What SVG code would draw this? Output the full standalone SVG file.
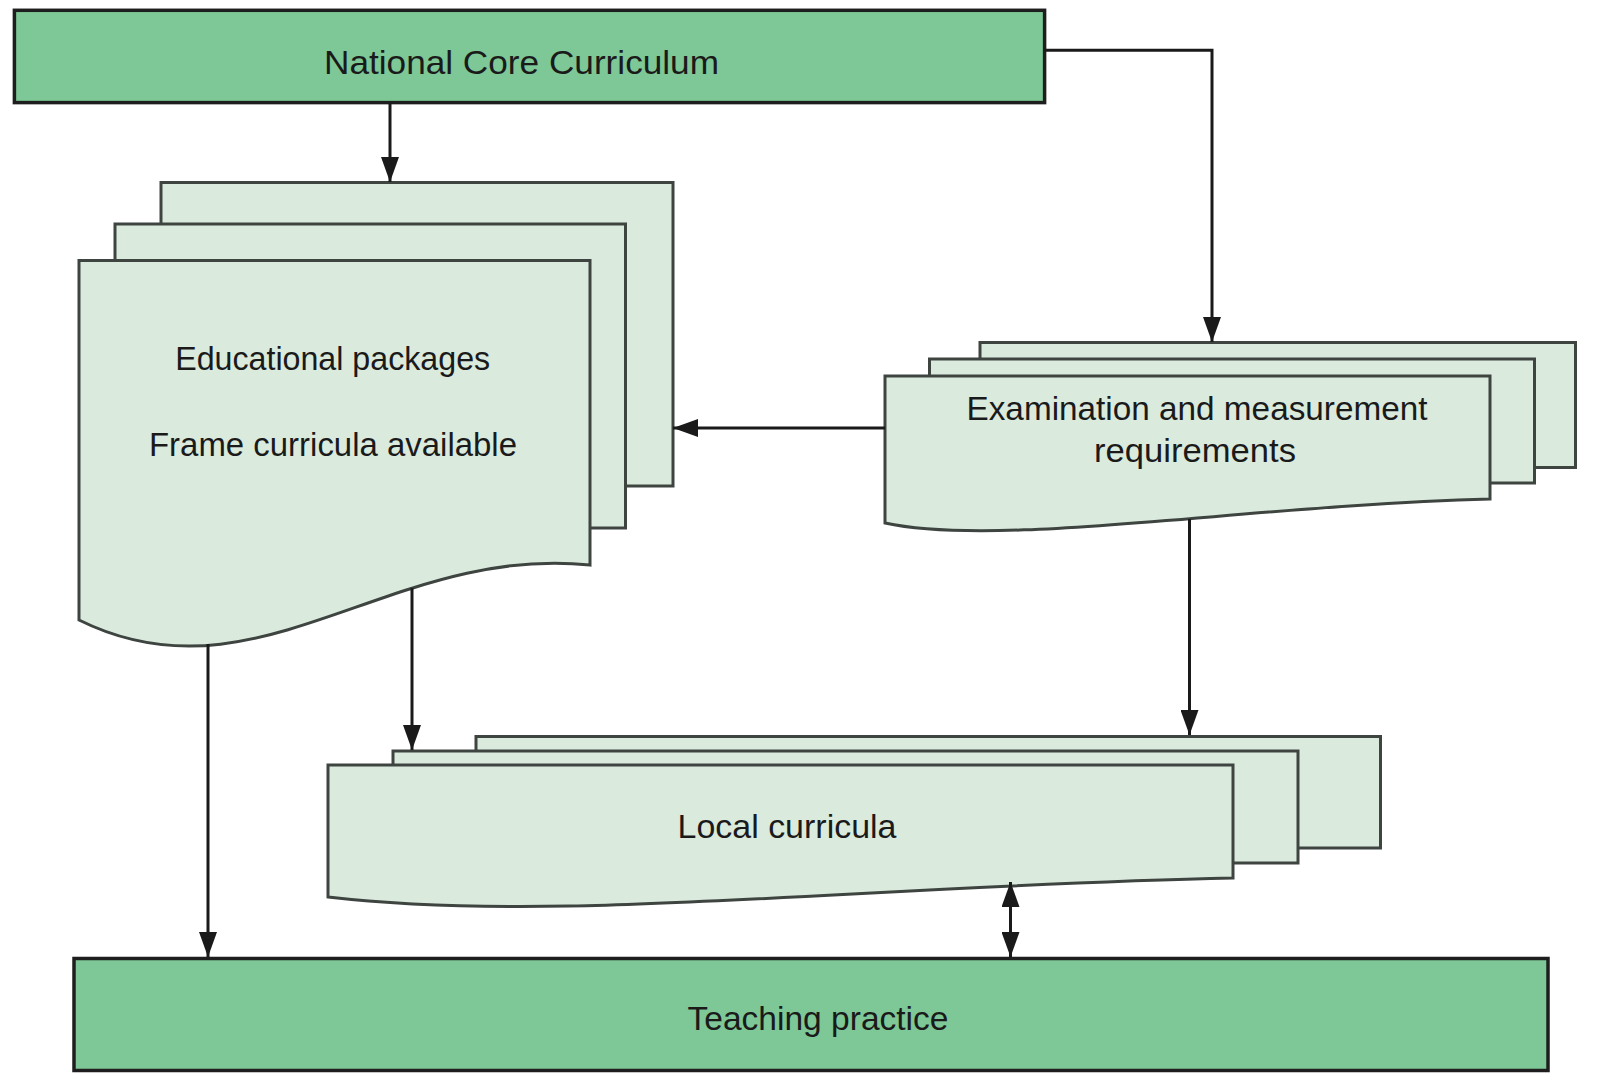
<svg xmlns="http://www.w3.org/2000/svg" width="1609" height="1081" viewBox="0 0 1609 1081">
<style>
.main{fill:#7dc896;stroke:#1e1e1e;stroke-width:3.5}
.sheet{fill:#daebde;stroke:#3e4440;stroke-width:3}
.lbl{font-family:"Liberation Sans",Arial,sans-serif;font-size:34px;fill:#1a1a1a;text-anchor:middle}
.conn{fill:none;stroke:#1a1a1a;stroke-width:3}
</style>
<defs>
<marker id="arr" markerUnits="userSpaceOnUse" markerWidth="26" markerHeight="18" refX="25" refY="9" orient="auto-start-reverse" viewBox="0 0 26 18">
<path d="M0,0 L25,9 L0,18 Z" fill="#1a1a1a"/>
</marker>
</defs>
<rect width="1609" height="1081" fill="#ffffff"/>
<g id="national-core-curriculum">
<rect class="main" x="14.4" y="10.3" width="1030.2" height="92.3"/>
<text class="lbl" x="521.5" y="74" textLength="395" lengthAdjust="spacingAndGlyphs">National Core Curriculum</text>
</g>
<g id="educational-packages">
<rect class="sheet" x="161" y="182.5" width="512" height="303.5"/>
<rect class="sheet" x="115" y="224" width="510.5" height="304"/>
<path class="sheet" d="M79,260.5 L590,260.5 L590,565 C390,544 256,708 79,620 Z"/>
<text class="lbl" x="332.7" y="370" textLength="315" lengthAdjust="spacingAndGlyphs">Educational packages</text>
<text class="lbl" x="333" y="456" textLength="368" lengthAdjust="spacingAndGlyphs">Frame curricula available</text>
</g>
<g id="examination-requirements">
<rect class="sheet" x="980" y="342.5" width="595.5" height="125"/>
<rect class="sheet" x="929.5" y="359" width="605" height="124"/>
<path class="sheet" d="M885,376 L1490,376 L1490,499 C1250,505 1000,548 885,523 Z"/>
<text class="lbl" x="1197" y="420" textLength="461" lengthAdjust="spacingAndGlyphs">Examination and measurement</text>
<text class="lbl" x="1195" y="462" textLength="202" lengthAdjust="spacingAndGlyphs">requirements</text>
</g>
<g id="local-curricula">
<rect class="sheet" x="476" y="736.5" width="904.5" height="111.5"/>
<rect class="sheet" x="393" y="751" width="905" height="112"/>
<path class="sheet" d="M328,765 L1233,765 L1233,878 C850,886 560,924 328,897 Z"/>
<text class="lbl" x="787" y="838" textLength="219" lengthAdjust="spacingAndGlyphs">Local curricula</text>
</g>
<g id="teaching-practice">
<rect class="main" x="74" y="958.5" width="1474" height="112"/>
<text class="lbl" x="818" y="1030" textLength="261" lengthAdjust="spacingAndGlyphs">Teaching practice</text>
</g>
<g id="connectors">
<path class="conn" d="M390,102.6 L390,182" marker-end="url(#arr)"/>
<path class="conn" d="M1044.6,50.3 H1212 V342" marker-end="url(#arr)"/>
<path class="conn" d="M885,428 H673" marker-end="url(#arr)"/>
<path class="conn" d="M208,644 V957" marker-end="url(#arr)"/>
<path class="conn" d="M412,588 V750" marker-end="url(#arr)"/>
<path class="conn" d="M1189.5,519 V735" marker-end="url(#arr)"/>
<path class="conn" d="M1010.5,882 V957" marker-start="url(#arr)" marker-end="url(#arr)"/>
</g>
</svg>
